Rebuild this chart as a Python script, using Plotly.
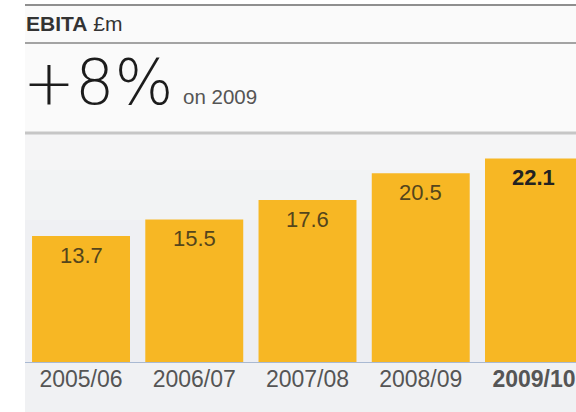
import plotly.graph_objects as go

# EBITA by financial year, £m
years = ["2005/06", "2006/07", "2007/08", "2008/09", "2009/10"]
ebita = [13.7, 15.5, 17.6, 20.5, 22.1]
value_labels = ["13.7", "15.5", "17.6", "20.5", "22.1"]
tick_labels = ["2005/06", "2006/07", "2007/08", "2008/09", "<b>2009/10</b>"]
headline = "+8%"
headline_note = "on 2009"

W, H = 576, 412
BAR = "#f7b724"
LEFT = 25


def px(x):
    return x / W


def py(y):
    return 1 - y / H


fig = go.Figure()

fig.add_trace(go.Bar(
    x=years,
    y=ebita,
    marker=dict(color=BAR, line=dict(width=0)),
    hoverinfo="skip",
))

shapes = []
# header panel
shapes.append(dict(type="rect", xref="paper", yref="paper", layer="below",
                   x0=px(LEFT), x1=1, y0=py(133), y1=py(5),
                   fillcolor="#fafafa", line=dict(width=0)))
# chart panel, shaded in bands for a soft vertical gradient
bands = [(133, 170, "#f5f5f6"), (170, 220, "#f2f3f4"), (220, 300, "#eff0f3"),
         (300, 363, "#edeef2"), (363, 412, "#f0f1f3")]
for y0, y1, c in bands:
    shapes.append(dict(type="rect", xref="paper", yref="paper", layer="below",
                       x0=px(LEFT), x1=1, y0=py(y1), y1=py(y0),
                       fillcolor=c, line=dict(width=0)))
# rules
for y, c, w in [(5, "#8f8f8f", 2), (43, "#a3a3a3", 2), (133, "#c6c6c6", 3)]:
    shapes.append(dict(type="line", xref="paper", yref="paper", layer="above",
                       x0=px(LEFT), x1=1, y0=py(y), y1=py(y),
                       line=dict(color=c, width=w)))
# baseline
shapes.append(dict(type="line", xref="paper", yref="paper", layer="above",
                   x0=px(LEFT), x1=1, y0=py(362.5), y1=py(362.5),
                   line=dict(color="#a9b9d2", width=1.2)))

annotations = [
    dict(text="<b>EBITA</b> £m", xref="paper", yref="paper",
         x=px(24), y=py(24), xanchor="left", yanchor="middle", showarrow=False,
         font=dict(family="Liberation Sans, Arial", size=21, color="#333333")),
    dict(text=headline, xref="paper", yref="paper",
         x=px(21), y=py(82), xanchor="left", yanchor="middle", showarrow=False,
         font=dict(family="DejaVu Sans", weight=200, size=62, color="#1c1c1c")),
    dict(text=headline_note, xref="paper", yref="paper",
         x=px(181), y=py(110), xanchor="left", yanchor="bottom", showarrow=False,
         font=dict(family="Liberation Sans, Arial", size=20.5, color="#555555")),
]

for i, (yr, v, lab) in enumerate(zip(years, ebita, value_labels)):
    last = i == len(years) - 1
    annotations.append(dict(
        text=f"<b>{lab}</b>" if last else lab,
        x=yr, y=v, xref="x", yref="y", yshift=-19,
        xanchor="center", yanchor="middle", showarrow=False,
        font=dict(family="Liberation Sans, Arial", size=22,
                  color="#222222" if last else "#54451c"),
    ))

fig.update_layout(
    width=W, height=H,
    margin=dict(l=0, r=0, t=0, b=0),
    paper_bgcolor="#ffffff",
    plot_bgcolor="rgba(0,0,0,0)",
    showlegend=False,
    bargap=0.135,
    shapes=shapes,
    annotations=annotations,
    xaxis=dict(
        domain=[24.4 / W, 1],
        range=[-0.5, 4.371],
        tickmode="array", tickvals=years, ticktext=tick_labels,
        showgrid=False, zeroline=False, showline=False, ticks="",
        tickfont=dict(family="Liberation Sans, Arial", size=23, color="#555555"),
        fixedrange=True,
    ),
    yaxis=dict(
        domain=[(H - 362.5) / H, (H - 140) / H],
        range=[0, 222.5 / 9.23],
        visible=False, showgrid=False, zeroline=False,
        fixedrange=True,
    ),
)

fig.write_html("out.html", config={"displayModeBar": False})
